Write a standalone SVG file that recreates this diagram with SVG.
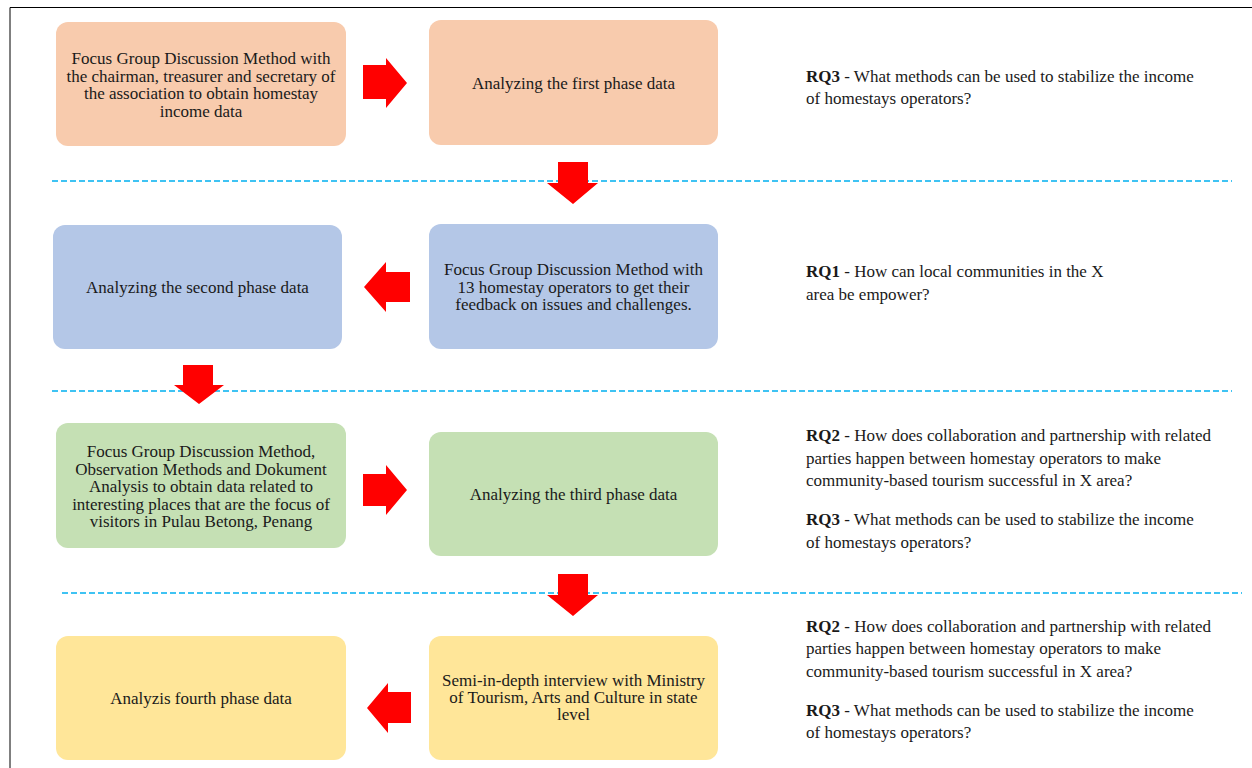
<svg xmlns="http://www.w3.org/2000/svg" width="1252" height="768" viewBox="0 0 1252 768">
<style>
.bt{font-family:"Liberation Serif","Times New Roman","DejaVu Serif",serif;font-size:17px;fill:#1a1a1a;text-anchor:middle}
.rq{font-family:"Liberation Serif","Times New Roman","DejaVu Serif",serif;font-size:17px;fill:#1a1a1a}
.b{font-weight:bold}
.dash{stroke:#00B0F0;stroke-width:1.5;stroke-dasharray:6 3;fill:none}
.arr{fill:#FF0000}
.peach{fill:#F8CBAD}.blue{fill:#B4C7E7}.green{fill:#C5E0B4}.yellow{fill:#FFE699}
</style>
<rect width="1252" height="768" fill="#fff"/>
<path d="M10 768 V7.5 H1252" stroke="#000" stroke-width="1" fill="none"/>
<g id="separators">
<line class="dash" x1="52" y1="181" x2="1232" y2="181"/>
<line class="dash" x1="52" y1="391" x2="1232" y2="391"/>
<line class="dash" x1="62" y1="593" x2="1242" y2="593"/>
</g>
<g id="n1"><rect class="peach" x="56" y="22" width="290" height="124" rx="12"/>
<text class="bt"><tspan x="201" y="64">Focus Group Discussion Method with</tspan><tspan x="201" y="81.5">the chairman, treasurer and secretary of</tspan><tspan x="201" y="99">the association to obtain homestay</tspan><tspan x="201" y="116.5">income data</tspan></text></g>
<g id="n2"><rect class="peach" x="429" y="20" width="289" height="125" rx="12"/>
<text class="bt" x="573.5" y="89">Analyzing the first phase data</text></g>
<g id="n3"><rect class="blue" x="429" y="224" width="289" height="125" rx="12"/>
<text class="bt"><tspan x="573.5" y="275">Focus Group Discussion Method with</tspan><tspan x="573.5" y="292.5">13 homestay operators to get their</tspan><tspan x="573.5" y="310">feedback on issues and challenges.</tspan></text></g>
<g id="n4"><rect class="blue" x="53" y="225" width="289" height="124" rx="12"/>
<text class="bt" x="197.5" y="293">Analyzing the second phase data</text></g>
<g id="n5"><rect class="green" x="56" y="423" width="290" height="125" rx="12"/>
<text class="bt"><tspan x="201" y="457">Focus Group Discussion Method,</tspan><tspan x="201" y="474.5">Observation Methods and Dokument</tspan><tspan x="201" y="492">Analysis to obtain data related to</tspan><tspan x="201" y="509.5">interesting places that are the focus of</tspan><tspan x="201" y="527">visitors in Pulau Betong, Penang</tspan></text></g>
<g id="n6"><rect class="green" x="429" y="432" width="289" height="124" rx="12"/>
<text class="bt" x="573.5" y="500">Analyzing the third phase data</text></g>
<g id="n7"><rect class="yellow" x="429" y="636" width="289" height="124" rx="12"/>
<text class="bt"><tspan x="573.5" y="686">Semi-in-depth interview with Ministry</tspan><tspan x="573.5" y="703">of Tourism, Arts and Culture in state</tspan><tspan x="573.5" y="720">level</tspan></text></g>
<g id="n8"><rect class="yellow" x="56" y="636" width="290" height="124" rx="12"/>
<text class="bt" x="201" y="704">Analyzis fourth phase data</text></g>
<g id="connectors">
<polygon class="arr" points="363,65 386,65 386,58 407,83 386,108 386,99 363,99"/>
<polygon class="arr" points="558,162 588,162 588,183 598,183 573,204 547,183 558,183"/>
<polygon class="arr" points="410,272 386,272 386,262 364,287 386,312 386,302 410,302"/>
<polygon class="arr" points="183,365 213,365 213,385 224,385 199,404 174,385 183,385"/>
<polygon class="arr" points="363,474 386,474 386,465 407,490 386,515 386,506 363,506"/>
<polygon class="arr" points="558,574 588,574 588,595 598,595 573,616 547,595 558,595"/>
<polygon class="arr" points="411,692 388,692 388,683 367,708 388,733 388,723 411,723"/>
</g>
<g id="rq-phase1"><text class="rq"><tspan x="806" y="82"><tspan class="b">RQ3</tspan> - What methods can be used to stabilize the income</tspan><tspan x="806" y="104">of homestays operators?</tspan></text></g>
<g id="rq-phase2"><text class="rq"><tspan x="806" y="277"><tspan class="b">RQ1</tspan> - How can local communities in the X</tspan><tspan x="806" y="300">area be empower?</tspan></text></g>
<g id="rq-phase3"><text class="rq"><tspan x="806" y="441"><tspan class="b">RQ2</tspan> - How does collaboration and partnership with related</tspan><tspan x="806" y="464">parties happen between homestay operators to make</tspan><tspan x="806" y="486">community-based tourism successful in X area?</tspan><tspan x="806" y="525"><tspan class="b">RQ3</tspan> - What methods can be used to stabilize the income</tspan><tspan x="806" y="548">of homestays operators?</tspan></text></g>
<g id="rq-phase4"><text class="rq"><tspan x="806" y="632"><tspan class="b">RQ2</tspan> - How does collaboration and partnership with related</tspan><tspan x="806" y="654">parties happen between homestay operators to make</tspan><tspan x="806" y="677">community-based tourism successful in X area?</tspan><tspan x="806" y="716"><tspan class="b">RQ3</tspan> - What methods can be used to stabilize the income</tspan><tspan x="806" y="738">of homestays operators?</tspan></text></g>
</svg>
